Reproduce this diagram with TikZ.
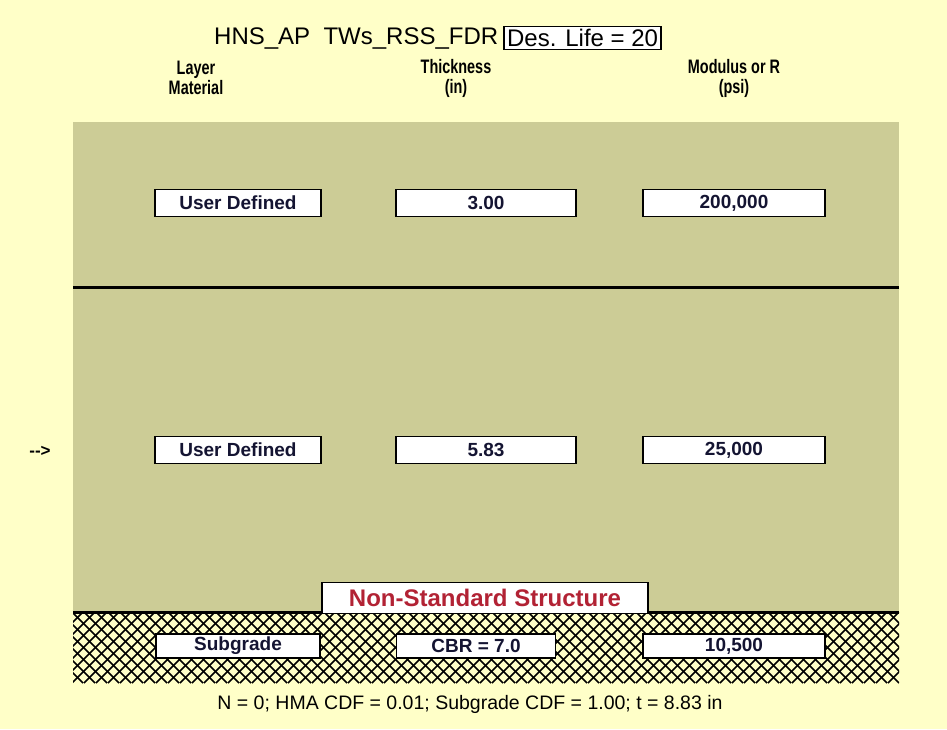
\documentclass[tikz,border=0pt]{standalone}
\usepackage{fontspec}
\setmainfont{Liberation Sans}
\newfontfamily\narrowfont[FakeStretch=0.74]{Liberation Sans}
\usetikzlibrary{positioning}

\definecolor{paleyellow}{RGB}{255,255,200}
\definecolor{layerolive}{RGB}{204,204,150}
\definecolor{boxnavy}{RGB}{20,20,50}
\definecolor{warnred}{RGB}{178,34,52}

\begin{document}
\begin{tikzpicture}[x=1pt, y=-1pt, node distance=0pt and 5pt,
  valbox/.style={draw, line width=1.3pt, fill=white, text=boxnavy, inner sep=0pt, minimum height=27pt, font=\bfseries\fontsize{19}{19}\selectfont},
  colhead/.style={align=center, font=\narrowfont\bfseries\fontsize{19.5}{20}\selectfont},
  hline/.style={line width=3pt}]
% background and layers
\fill[paleyellow] (0,0) rectangle (947,729);
\useasboundingbox (0,0) rectangle (947,729);
\fill[layerolive] (73,122) rectangle (899,612);
\begin{scope}
\clip (73,612) rectangle (899,683);
\foreach \i in {-84,-72,...,900} {
  \draw[line width=1.6pt] (\i,612) -- ++(71,71);
  \draw[line width=1.6pt] (\i,683) -- ++(71,-71);
}
\end{scope}
\draw[hline] (73,287) -- (899,287);
\draw[hline] (73,612) -- (899,612);

% title
\node[anchor=base west, inner sep=0pt, font=\fontsize{24}{24}\selectfont] (title) at (214,44) {HNS\_AP\ \ TWs\_RSS\_FDR};
\node[draw, line width=1.3pt, fill=white, inner sep=3pt, font=\fontsize{24}{24}\selectfont, right=of title] (life) {Des. Life = 20};

% column heads
\node[colhead] (hmat) at (196,78) {Layer\\Material};
\node[colhead] (hthk) at (456,78) {Thickness\\(in)};
\node[colhead] (hmod) at (734,78) {Modulus or R\\(psi)};

% layer 1
\node[valbox, minimum width=166pt] (mat1) at (238,203) {User Defined};
\node[valbox, minimum width=180pt] (thk1) at (486,203) {3.00};
\node[valbox, minimum width=182pt] (mod1) at (734,203) {200,000};

% layer 2
\node[font=\bfseries\fontsize{17}{17}\selectfont] (mark) at (40,451) {-{}->};
\node[valbox, minimum width=166pt] (mat2) at (238,450) {User Defined};
\node[valbox, minimum width=180pt] (thk2) at (486,450) {5.83};
\node[valbox, minimum width=182pt] (mod2) at (734,450) {25,000};

\node[draw, line width=1.3pt, fill=white, text=warnred, minimum width=326pt, minimum height=31pt, inner sep=0pt, font=\bfseries\fontsize{24}{24}\selectfont] (nonstd) at (485,598) {Non-Standard Structure};

% subgrade
\node[valbox, minimum width=164pt, minimum height=24pt] (mat3) at (238,646) {Subgrade};
\node[valbox, minimum width=159pt, minimum height=24pt] (thk3) at (476,646) {CBR = 7.0};
\node[valbox, minimum width=182pt, minimum height=24pt] (mod3) at (734,646) {10,500};

\node[font=\fontsize{19.5}{19.5}\selectfont] (summary) at (470,704) {N = 0; HMA CDF = 0.01; Subgrade CDF = 1.00; t = 8.83 in};
\end{tikzpicture}
\end{document}
